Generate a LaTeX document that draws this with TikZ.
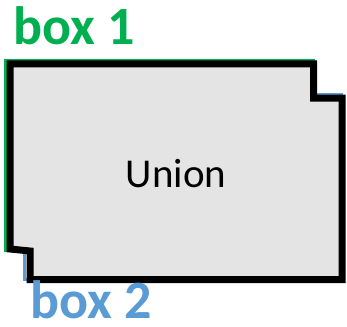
\documentclass[tikz,border=0pt]{standalone}
\usepackage{fontspec}
\setmainfont{Carlito}
\begin{document}
\definecolor{boxgreen}{HTML}{00B050}
\definecolor{boxblue}{HTML}{5B9BD5}
\definecolor{unionfill}{HTML}{E4E4E4}
\begin{tikzpicture}[x=1pt,y=-1pt,
  boxlabel/.style={inner sep=0pt, anchor=base west, font=\bfseries\fontsize{54}{54}\selectfont},
  outline/.style={line width=3pt}]
\useasboundingbox (0,0) rectangle (347,326);
% the two overlapping rectangles
\draw[outline, boxgreen] (5.5,61) rectangle (313,250);
\draw[outline, boxblue] (24.5,94) rectangle (341.5,279);
% their union
\draw[line width=7pt, fill=unionfill, line join=miter]
  (10,64) -- (313.5,64) -- (313.5,98) -- (342,98) -- (342,279.5)
  -- (30,279.5) -- (30,251) -- (10,249) -- cycle;
\node[font=\fontsize{41}{41}\selectfont, anchor=base, inner sep=0pt] (union) at (176,187) {Union};
\node[boxlabel, text=boxgreen] (box1) at (13,45) {box 1};
\node[boxlabel, text=boxblue] (box2) at (30,318) {box 2};
\end{tikzpicture}
\end{document}
